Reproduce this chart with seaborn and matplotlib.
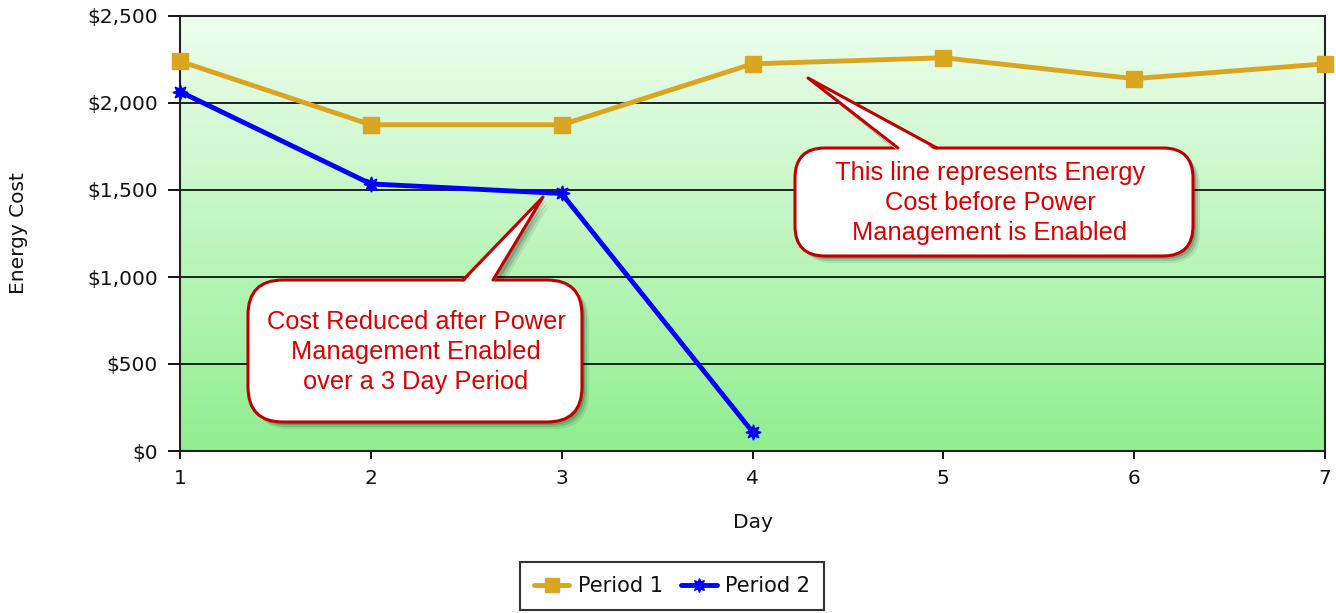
import numpy as np
import pandas as pd
import seaborn as sns
import matplotlib.pyplot as plt
from matplotlib.patches import FancyBboxPatch, Polygon
from matplotlib.lines import Line2D
from matplotlib.transforms import Affine2D
from matplotlib.colors import LinearSegmentedColormap
from matplotlib.ticker import FuncFormatter

# data
days = [1, 2, 3, 4, 5, 6, 7]
period1 = [2240, 1875, 1875, 2225, 2260, 2140, 2225]
period2_days = [1, 2, 3, 4]
period2 = [2065, 1535, 1480, 110]
series_names = ['Period 1', 'Period 2']
series_colors = {'Period 1': '#DAA520', 'Period 2': '#0000FF'}
series_markers = {'Period 1': 's', 'Period 2': (8, 1, 0)}

df = pd.concat([
    pd.DataFrame({'Day': days, 'Cost': period1, 'Series': 'Period 1'}),
    pd.DataFrame({'Day': period2_days, 'Cost': period2, 'Series': 'Period 2'}),
], ignore_index=True)

sns.set_style('white')
plt.rcParams['font.family'] = ['DejaVu Sans']
plt.rcParams['text.color'] = '#111111'
plt.rcParams['axes.labelcolor'] = '#111111'
plt.rcParams['xtick.color'] = '#111111'
plt.rcParams['ytick.color'] = '#111111'

W, H = 1336, 613
fig = plt.figure(figsize=(W / 100, H / 100), dpi=100)
ax = fig.add_axes([180 / W, 1 - 451 / H, 1145 / W, 435 / H])

# green gradient behind the plot area
grad = np.linspace(0, 1, 256).reshape(-1, 1)
cmap = LinearSegmentedColormap.from_list('bg', ['#eefeee', '#90ee90'])
ax.imshow(grad, cmap=cmap, aspect='auto', extent=[0, 1, 0, 1],
          transform=ax.transAxes, zorder=0, interpolation='bilinear')

sns.lineplot(data=df, x='Day', y='Cost', hue='Series', style='Series',
             palette=series_colors, markers=series_markers, dashes=False,
             lw=3.5, markersize=11, ax=ax, legend=False)
for line in ax.lines:
    line.set_markeredgecolor(line.get_color())
    line.set_markeredgewidth(1)
    line.set_clip_on(False)
    line.set_zorder(3)

ax.set_xlim(1, 7)
ax.set_ylim(0, 2500)
ax.set_xticks(days)
ax.set_yticks([0, 500, 1000, 1500, 2000, 2500])
ax.yaxis.set_major_formatter(FuncFormatter(lambda v, p: f'${v:,.0f}'))
ax.set_axisbelow(True)
ax.yaxis.grid(True, color='black', lw=1.2)
ax.xaxis.grid(False)
for s in ax.spines.values():
    s.set_color('#222222')
    s.set_linewidth(1.5)

ax.tick_params(axis='y', direction='out', length=9, width=1.3, color='black',
               labelsize=14.5, pad=7, left=True)
ax.tick_params(axis='x', direction='out', length=6, width=1.3, color='black',
               labelsize=14.5, pad=7, bottom=True)

ax.set_xlabel('Day', fontsize=14.5)
ax.set_ylabel('Energy Cost', fontsize=14.5)
ax.xaxis.set_label_coords(0.5, -0.142)
ax.yaxis.set_label_coords(-0.133, 0.5)

# legend below the chart
handles = [Line2D([], [], color=series_colors[n], marker=series_markers[n],
                  lw=3.5, markersize=10, mec=series_colors[n]) for n in series_names]
leg = fig.legend(handles, series_names, loc='center',
                 bbox_to_anchor=(672 / W, 1 - 586 / H), ncol=2, fontsize=15,
                 frameon=True, fancybox=False, edgecolor='black',
                 handlelength=1.7, handletextpad=0.4, columnspacing=0.9,
                 borderpad=0.65)
leg.get_frame().set_linewidth(1.5)

# callouts, positioned in pixel units (origin top-left)
px = Affine2D().scale(1 / W, -1 / H).translate(0, 1) + fig.transFigure
red = '#c00000'


def callout(box, tip, base, text, center, radius):
    x0, y0, x1, y1 = box
    tri = [(base[0], y0 + 3), tip, (base[1], y0 + 3)]
    for off, a in [(7, 0.08), (5, 0.12), (3, 0.16)]:
        fig.add_artist(FancyBboxPatch((x0 + off, y0 + off), x1 - x0, y1 - y0,
                                      boxstyle=f'round,pad=0,rounding_size={radius}',
                                      transform=px, fc='black', ec='none',
                                      alpha=a, zorder=1))
        fig.add_artist(Polygon([(x + off, y + off) for x, y in tri], closed=True,
                               transform=px, fc='black', ec='none', alpha=a,
                               zorder=1))
    fig.add_artist(FancyBboxPatch((x0, y0), x1 - x0, y1 - y0,
                                  boxstyle=f'round,pad=0,rounding_size={radius}',
                                  transform=px, fc='white', ec=red, lw=2.2,
                                  zorder=2))
    fig.add_artist(Polygon(tri, closed=True, transform=px, fc='white',
                           ec='none', zorder=3))
    fig.add_artist(Line2D([base[0], tip[0], base[1]], [y0, tip[1], y0],
                          transform=px, color=red, lw=2.2, zorder=4))
    fig.text(center[0], center[1], text, transform=px, ha='center',
             va='center', color='#dd0000', fontsize=18.3,
             family='Liberation Sans', linespacing=1.3, zorder=5)


callout((248, 280, 582, 422), (543, 197), (463, 493),
        'Cost Reduced after Power\nManagement Enabled\nover a 3 Day Period',
        (416, 352), 35)
callout((795, 148, 1193, 256), (808, 78), (898, 937),
        'This line represents Energy\nCost before Power\nManagement is Enabled',
        (990, 203), 30)

fig.savefig('out.png', dpi=100)
